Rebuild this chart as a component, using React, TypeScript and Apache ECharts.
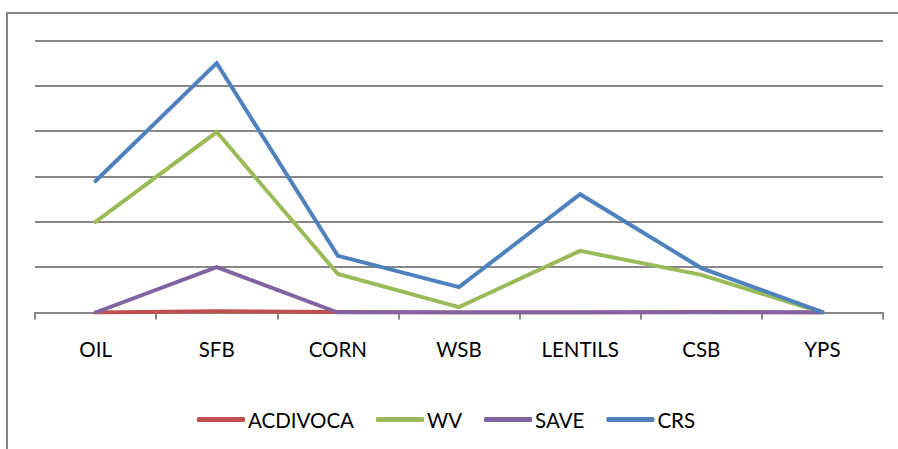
import React, { useEffect, useRef } from "react";
import * as echarts from "echarts";

const categories = ["OIL", "SFB", "CORN", "WSB", "LENTILS", "CSB", "YPS"];
const acdivoca = [0, 0.03, 0.01, 0, 0, 0.01, 0];
const wv = [2.0, 3.98, 0.85, 0.12, 1.36, 0.83, 0];
const save = [0, 1.0, 0, 0, 0, 0, 0];
const crs = [2.9, 5.5, 1.25, 0.56, 2.61, 0.98, 0.01];

const seriesNames = ["ACDIVOCA", "WV", "SAVE", "CRS"];
const seriesData = [acdivoca, wv, save, crs];
const colors = ["#C0504D", "#9BBB59", "#8064A2", "#4F81BD"];

export default function App() {
  const ref = useRef<HTMLDivElement>(null);
  useEffect(() => {
    if (!ref.current) return;
    const chart = echarts.init(ref.current, undefined, { renderer: "svg" });
    const font = "Lato, Calibri, 'Open Sans', sans-serif";
    chart.setOption({
      animation: false,
      backgroundColor: "#ffffff",
      textStyle: { fontFamily: font },
      graphic: [
        {
          type: "rect",
          shape: { x: 7, y: 13, width: 1000, height: 1000 },
          style: { fill: "none", stroke: "#878787", lineWidth: 2 },
          silent: true,
        },
      ],
      grid: { left: 35, right: 15, top: 40.5, bottom: 136.5 },
      legend: {
        left: 192,
        top: 404,
        itemWidth: 48,
        itemHeight: 5,
        itemGap: 22,
        icon: "roundRect",
        textStyle: { fontSize: 20.5, color: "#000", fontFamily: font, padding: [0, 0, 0, -2] },
        data: seriesNames,
      },
      xAxis: {
        type: "category",
        data: categories,
        boundaryGap: true,
        axisLine: { lineStyle: { color: "#878787", width: 2 } },
        axisTick: { show: true, length: 7, lineStyle: { color: "#878787", width: 2 } },
        axisLabel: { fontSize: 20.5, color: "#000", margin: 26, fontFamily: font },
      },
      yAxis: {
        type: "value",
        min: 0,
        max: 6,
        interval: 1,
        axisLabel: { show: false },
        axisLine: { show: false },
        axisTick: { show: false },
        splitLine: { lineStyle: { color: "#878787", width: 2 } },
      },
      series: seriesNames.map((name, i) => ({
        name,
        type: "line",
        data: seriesData[i],
        symbol: "none",
        color: colors[i],
        lineStyle: { width: 4, color: colors[i], cap: "round", join: "miter" },
      })),
    });
    return () => chart.dispose();
  }, []);
  return (
    <div
      ref={ref}
      style={{ position: "fixed", left: 0, top: 0, width: 898, height: 449 }}
    />
  );
}
